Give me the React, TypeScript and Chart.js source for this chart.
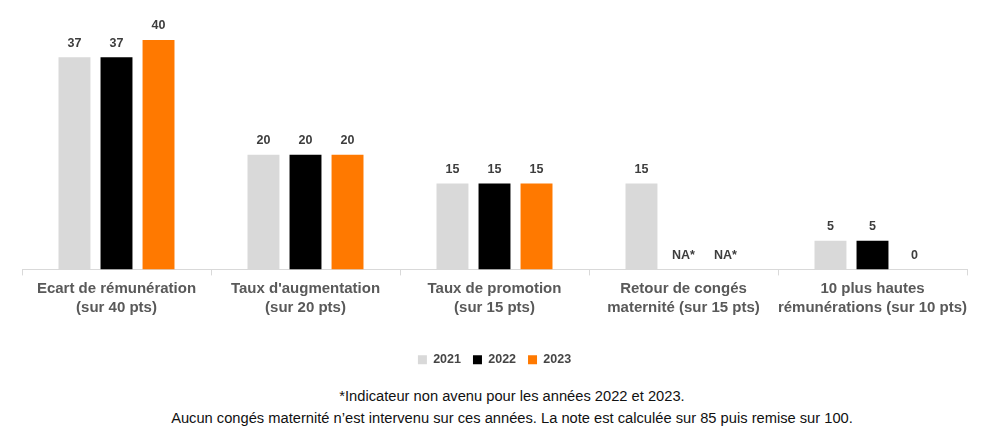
import React, { useEffect, useRef } from "react";
import { Chart, registerables } from "chart.js";

Chart.register(...registerables);

const categories = [
  ["Ecart de rémunération", "(sur 40 pts)"],
  ["Taux d'augmentation", "(sur 20 pts)"],
  ["Taux de promotion", "(sur 15 pts)"],
  ["Retour de congés", "maternité (sur 15 pts)"],
  ["10 plus hautes", "rémunérations (sur 10 pts)"],
];
const years = ["2021", "2022", "2023"];
const values2021 = [37, 20, 15, 15, 5];
const values2022 = [37, 20, 15, null, 5];
const values2023 = [40, 20, 15, null, 0];
const missingLabel = "NA*";
const footnote = [
  "*Indicateur non avenu pour les années 2022 et 2023.",
  "Aucun congés maternité n\u2019est intervenu sur ces années. La note est calculée sur 85 puis remise sur 100.",
];

const FONT = "'Helvetica Neue', Arial, 'Liberation Sans', sans-serif";

// étiquettes au-dessus des barres (et NA* quand pas de valeur)
const valueLabels = {
  id: "valueLabels",
  afterDatasetsDraw(chart: any) {
    const ctx = chart.ctx;
    const zero = chart.scales.y.getPixelForValue(0);
    ctx.save();
    ctx.font = `bold 12.5px ${FONT}`;
    ctx.fillStyle = "#3d3d3d";
    ctx.textAlign = "center";
    ctx.textBaseline = "middle";
    chart.data.datasets.forEach((ds: any, di: number) => {
      const meta = chart.getDatasetMeta(di);
      meta.data.forEach((bar: any, i: number) => {
        const v = ds.data[i];
        const text = v === null ? missingLabel : String(v);
        const top = v === null ? zero : bar.y;
        ctx.fillText(text, bar.x, top - 14);
      });
    });
    ctx.restore();
  },
};

const App = () => {
  const chartRef = useRef<HTMLCanvasElement | null>(null);

  useEffect(() => {
    document.body.style.margin = "0";
    if (!chartRef.current) return;
    const ctx = chartRef.current.getContext("2d");
    if (!ctx) return;

    const chart = new Chart(ctx, {
      type: "bar",
      data: {
        labels: categories,
        datasets: [
          { label: years[0], data: values2021, backgroundColor: "#d9d9d9" },
          { label: years[1], data: values2022, backgroundColor: "#000000" },
          { label: years[2], data: values2023, backgroundColor: "#ff7900" },
        ],
      },
      options: {
        animation: false,
        responsive: true,
        maintainAspectRatio: false,
        datasets: {
          bar: { categoryPercentage: 0.667, barPercentage: 0.76 },
        },
        layout: { padding: { left: 22, right: 33, top: 40, bottom: 6 } },
        scales: {
          x: {
            border: { display: true, color: "#d9d9d9", width: 1 },
            grid: {
              display: true,
              drawOnChartArea: false,
              drawTicks: true,
              tickLength: 6,
              color: "#d9d9d9",
              offset: true,
            },
            ticks: {
              color: "#595959",
              padding: 4,
              maxRotation: 0,
              autoSkip: false,
              font: { family: FONT, size: 15, weight: "bold", lineHeight: 1.27 },
            },
            afterFit(scale: any) {
              scale.height += 20;
            },
          },
          y: {
            display: false,
            min: 0,
            max: 40,
          },
        },
        plugins: {
          legend: {
            position: "bottom",
            labels: {
              boxWidth: 9,
              boxHeight: 9,
              padding: 12,
              color: "#454545",
              font: { family: FONT, size: 12.5, weight: "bold" },
            },
          },
          tooltip: { enabled: false },
        },
      },
      plugins: [valueLabels],
    });

    return () => {
      chart.destroy();
    };
  }, []);

  return (
    <div style={{ position: "relative", width: 1000, height: 448, background: "#fff" }}>
      <div style={{ position: "absolute", left: 0, top: 0, width: 1000, height: 382 }}>
        <canvas ref={chartRef}></canvas>
      </div>
      <div
        style={{
          position: "absolute",
          left: 12,
          top: 385,
          width: 1000,
          textAlign: "center",
          fontFamily: FONT,
          fontSize: 14.7,
          lineHeight: "22px",
          color: "#111",
        }}
      >
        {footnote.map((line) => (
          <div key={line}>{line}</div>
        ))}
      </div>
    </div>
  );
};

export default App;
